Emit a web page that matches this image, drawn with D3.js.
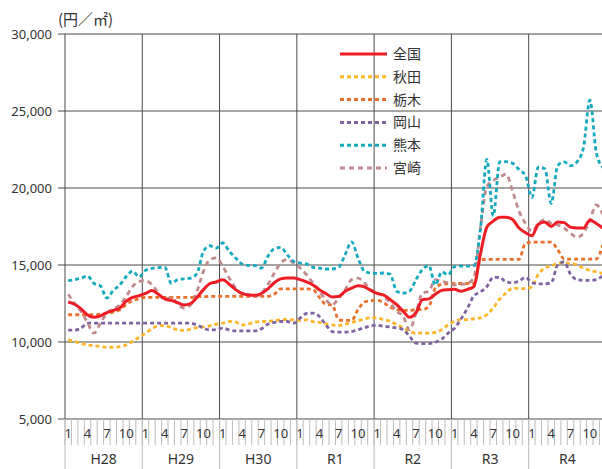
<!DOCTYPE html>
<html>
<head>
<meta charset="utf-8">
<script src="https://cdn.jsdelivr.net/npm/d3@7"></script>
<style>
  body { margin: 0; background: #fff; }
  svg text { font-family: "Noto Sans", "Noto Sans CJK JP", sans-serif; fill: #333; }
  .jp { font-family: "Noto Sans CJK JP", sans-serif; }
</style>
</head>
<body>
<div id="chart"></div>
<script>
// years (fiscal era labels) and month labels
var years = ["H28", "H29", "H30", "R1", "R2", "R3", "R4"];
var monthLabels = [1, 4, 7, 10];
var yTicks = [5000, 10000, 15000, 20000, 25000, 30000];

// monthly prices (yen / m2), Jan H28 .. Dec R4
var zenkoku = [
  12600, 12450, 12150, 11750, 11600, 11700, 11900, 12050, 12200, 12650, 12900, 13000,
  13150, 13350, 13100, 12800, 12700, 12550, 12400, 12500, 12900, 13400, 13800, 13900,
  14050, 13750, 13400, 13150, 13050, 13030, 13150, 13450, 13850, 14100, 14150, 14150,
  14050, 13900, 13700, 13400, 13150, 12920, 12950, 13300, 13500, 13650, 13580, 13350,
  13150, 13050, 12750, 12420, 12000, 11600, 11900, 12750, 12800, 13100, 13350, 13400,
  13420, 13300, 13420, 13600, 15700, 17450, 17850, 18100, 18100, 17950, 17400, 17100,
  16900, 17650, 17800, 17500, 17800, 17750, 17450, 17400, 17400, 17900, 17700, 17400
];
var akita = [
  10150, 10030, 9920, 9810, 9770, 9700, 9660, 9660, 9700, 9810, 10030, 10310,
  10570, 10860, 11050, 11070, 10940, 10790, 10750, 10830, 10940, 10980, 11050, 11160,
  11220, 11330, 11290, 11110, 11180, 11290, 11330, 11330, 11400, 11440, 11460, 11440,
  11400, 11440, 11330, 11270, 11180, 11110, 11070, 11160, 11270, 11380, 11480, 11590,
  11560, 11450, 11340, 11120, 10910, 10690, 10580, 10580, 10580, 10630, 10800, 11120,
  11340, 11450, 11450, 11510, 11560, 11770, 12210, 12790, 13180, 13500, 13480, 13460,
  13600, 14400, 14800, 14950, 15100, 15150, 15100, 15000, 14800, 14650, 14550, 14450
];
var tochigi = [
  11770, 11770, 11770, 11770, 11770, 11810, 11870, 11940, 12090, 12420, 12680, 12810,
  12900, 12900, 12900, 12900, 12900, 12900, 12900, 12900, 12940, 12940, 12960, 12960,
  12960, 12960, 12960, 12960, 12960, 12960, 12960, 12960, 13100, 13450, 13450, 13450,
  13450, 13450, 13400, 12900, 12450, 12400, 11450, 11400, 11400, 12100, 12600, 12680,
  12700, 12550, 12250, 12100, 12050, 12050, 12100, 12100, 12300, 13500, 13750, 13780,
  13800, 13800, 13800, 13800, 15350, 15370, 15370, 15370, 15370, 15370, 15370, 16400,
  16480, 16480, 16480, 16480, 16000, 15400, 15380, 15380, 15380, 15380, 15380, 16300
];
var okayama = [
  10770, 10770, 10900, 11220, 11220, 11220, 11220, 11220, 11220, 11220, 11220, 11220,
  11220, 11220, 11220, 11220, 11220, 11220, 11220, 11220, 11100, 10900, 10780, 10800,
  10900, 10790, 10720, 10720, 10720, 10720, 10860, 11160, 11270, 11330, 11330, 11220,
  11550, 11850, 11870, 11660, 11120, 10680, 10640, 10640, 10680, 10790, 10940, 11050,
  11080, 11020, 10970, 10910, 10800, 10370, 9930, 9890, 9890, 9980, 10190, 10580,
  10900, 11500, 12200, 13000, 13250, 13600, 14200, 14200, 13900, 13850, 13950, 14200,
  13850, 13780, 13780, 13850, 15000, 15200, 14400, 14050, 14000, 14000, 14050, 14300
];
var kumamoto = [
  13980, 14050, 14150, 14280, 13800, 13640, 12850, 13350, 13700, 14250, 14600, 14230,
  14650, 14780, 14830, 14850, 13820, 14050, 14100, 14150, 14450, 15900, 16250, 16100,
  16430, 15890, 15460, 15070, 14980, 14960, 14800, 15560, 16060, 16150, 15670, 15240,
  15130, 15070, 14850, 14800, 14740, 14740, 14850, 15670, 16500, 15460, 14590, 14480,
  14450, 14480, 14400, 13290, 13180, 13290, 14050, 14700, 14960, 13700, 14550, 14370,
  14900, 14930, 14930, 14950, 17300, 21850, 18200, 21700, 21710, 21600, 21200, 20800,
  19400, 21350, 21250, 19000, 21450, 21700, 21450, 21700, 22600, 25700, 22300, 21350
];
var miyazaki = [
  13100, 12500, 12000, 11250, 10570, 11220, 11870, 12150, 12400, 12960, 13610, 13940,
  13980, 13720, 13180, 12740, 12900, 12460, 12200, 12420, 13290, 14590, 15350, 15460,
  14910, 14150, 13500, 13110, 13070, 12960, 13180, 13720, 14480, 15130, 15350, 15130,
  14800, 14370, 13830, 13290, 12740, 12420, 12850, 13390, 14050, 14150, 13830, 13390,
  13180, 12960, 12530, 11990, 11670, 10800, 11880, 13180, 13290, 14050, 13940, 13830,
  13700, 13750, 13800, 14200, 17400, 20100, 20500, 20700, 20900, 19800, 18500, 17700,
  17200, 17700, 17950, 17700, 17600, 17400, 17060, 16800, 17060, 17900, 18900, 18300
];

var series = [
  { name: "全国", values: zenkoku, color: "#ee1c25", dash: null },
  { name: "秋田", values: akita, color: "#fdb62a", dash: "4,3" },
  { name: "栃木", values: tochigi, color: "#e8702b", dash: "4,3" },
  { name: "岡山", values: okayama, color: "#8064a2", dash: "4,3" },
  { name: "熊本", values: kumamoto, color: "#14a9bf", dash: "4,3" },
  { name: "宮崎", values: miyazaki, color: "#c18a8d", dash: "5,4" }
];

(function () {
  var W = 602, H = 469;
  var plotLeft = 65, monthW = 6.44, plotTop = 34, plotBottom = 419;
  var nMonths = years.length * 12;

  var svg = d3.select("#chart").append("svg")
    .attr("width", W).attr("height", H);

  var x = d3.scaleLinear().domain([0, nMonths]).range([plotLeft, plotLeft + nMonths * monthW]);
  var y = d3.scaleLinear().domain([5000, 30000]).range([plotBottom, plotTop]);

  // horizontal grid
  svg.append("g").selectAll("line").data(yTicks).join("line")
    .attr("x1", plotLeft - 7).attr("x2", W)
    .attr("y1", d => y(d)).attr("y2", d => y(d))
    .attr("stroke", "#4a4a4a").attr("stroke-width", 1);

  // y axis labels
  var yAxis = svg.append("g").attr("transform", "translate(" + (plotLeft - 7) + ",0)")
    .call(d3.axisLeft(y).tickValues(yTicks).tickSize(0).tickPadding(6)
      .tickFormat(d3.format(",")));
  yAxis.select(".domain").remove();
  yAxis.selectAll("text").style("font-size", "13px").attr("fill", "#333")
    .style("font-family", "'Noto Sans', sans-serif");

  // month ticks under the axis
  svg.append("g").selectAll("line").data(d3.range(nMonths + 1)).join("line")
    .attr("x1", d => x(d)).attr("x2", d => x(d))
    .attr("y1", plotBottom).attr("y2", 445)
    .attr("stroke", "#bdbdbd").attr("stroke-width", 1);

  // year separators
  var yearIdx = d3.range(years.length);
  svg.append("g").selectAll("line").data(yearIdx).join("line")
    .attr("x1", d => x(d * 12)).attr("x2", d => x(d * 12))
    .attr("y1", plotBottom).attr("y2", H)
    .attr("stroke", "#bdbdbd").attr("stroke-width", 1);
  svg.append("g").selectAll("line").data(yearIdx).join("line")
    .attr("x1", d => x(d * 12)).attr("x2", d => x(d * 12))
    .attr("y1", plotTop).attr("y2", plotBottom)
    .attr("stroke", "#4a4a4a").attr("stroke-width", 1);

  // month labels
  var mLab = [];
  yearIdx.forEach(function (yi) {
    monthLabels.forEach(function (m) { mLab.push({ i: yi * 12 + m - 1, t: m }); });
  });
  svg.append("g").selectAll("text").data(mLab).join("text")
    .attr("x", d => x(d.i + 0.5)).attr("y", 438)
    .attr("text-anchor", "middle").style("font-size", "13px")
    .text(d => d.t);

  // year labels
  svg.append("g").selectAll("text").data(years).join("text")
    .attr("x", (d, i) => x(i * 12 + 6)).attr("y", 464)
    .attr("text-anchor", "middle").style("font-size", "14px")
    .text(d => d);

  // unit
  svg.append("text").attr("class", "jp")
    .attr("x", 58).attr("y", 25).style("font-size", "15px")
    .text("(円／㎡)");

  // lines
  var line = d3.line()
    .x((d, i) => x(i + 0.5))
    .y(d => y(d))
    .curve(d3.curveMonotoneX);

  var drawOrder = [1, 2, 3, 5, 4, 0];
  drawOrder.forEach(function (k) {
    var s = series[k];
    svg.append("path")
      .datum(s.values)
      .attr("d", line)
      .attr("fill", "none")
      .attr("stroke", s.color)
      .attr("stroke-width", s.dash ? 2.8 : 3)
      .attr("stroke-dasharray", s.dash)
      .attr("stroke-linejoin", "round");
  });

  // legend
  var legend = svg.append("g");
  series.forEach(function (s, i) {
    var ly = 54 + i * 22.8;
    legend.append("line")
      .attr("x1", 340).attr("x2", 387).attr("y1", ly).attr("y2", ly)
      .attr("stroke", s.color).attr("stroke-width", 3)
      .attr("stroke-dasharray", s.dash);
    legend.append("text").attr("class", "jp")
      .attr("x", 393).attr("y", ly + 5).style("font-size", "14px")
      .text(s.name);
  });
})();
</script>
</body>
</html>
